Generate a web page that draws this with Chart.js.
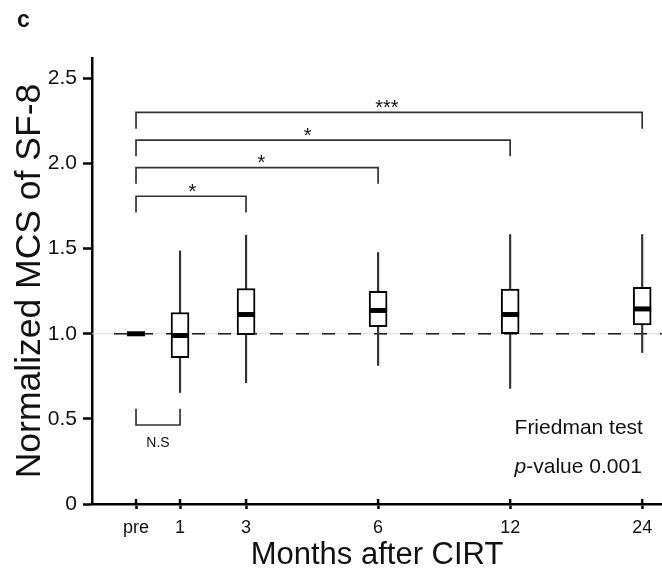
<!DOCTYPE html>
<html>
<head>
<meta charset="utf-8">
<script src="https://cdn.jsdelivr.net/npm/chart.js@4.4.0/dist/chart.umd.min.js"></script>
<style>
  html, body { margin: 0; padding: 0; background: #fff; overflow: hidden; }
  #wrap { position: relative; width: 662px; height: 574px; }
  canvas { display: block; }
</style>
</head>
<body>
<div id="wrap"><canvas id="chart"></canvas></div>
<script>
// months after CIRT, placed on a stretched axis like the original figure
const months = ['pre', '1', '3', '6', '12', '24'];
const monthPos = [0, 1, 2.5, 5.5, 8.5, 11.5];

// box plot values (normalized MCS of SF-8)
const whiskerLow = [1.0, 0.655, 0.712, 0.814, 0.679, 0.89];
const q1 = [1.0, 0.859, 0.995, 1.041, 1.0, 1.052];
const median = [1.0, 0.99, 1.113, 1.137, 1.113, 1.146];
const q3 = [1.0, 1.125, 1.266, 1.25, 1.262, 1.273];
const whiskerHigh = [1.0, 1.487, 1.579, 1.477, 1.583, 1.583];

const yTicks = [0, 0.5, 1.0, 1.5, 2.0, 2.5];

// significance brackets, all starting at 'pre'
const bracketTo = [5, 4, 3, 2];
const bracketLevel = [2.30, 2.138, 1.976, 1.808];
const bracketLabel = ['***', '*', '*', '*'];
const bracketLabelX = [5.7, 3.9, 2.85, 1.28];
const legDrop = 0.095;

const nsTo = 1;
const nsLevel = 0.464;

const refValue = 1.0;

const font = '"Liberation Sans", Arial, Helvetica, sans-serif';
const xMin = -1, xMax = 11.95;

const boxes = monthPos.map((p, i) => ({ x: p, y: [q1[i], q3[i]] }));
const whiskers = monthPos.map((p, i) => ({ x: p, y: [whiskerLow[i], whiskerHigh[i]] }));
const medians = monthPos.map((p, i) => ({ x: p, y: median[i] }));

const bracketSets = bracketTo.map((to, i) => ({
  type: 'line',
  data: [
    { x: monthPos[0], y: bracketLevel[i] - legDrop },
    { x: monthPos[0], y: bracketLevel[i] },
    { x: monthPos[to], y: bracketLevel[i] },
    { x: monthPos[to], y: bracketLevel[i] - legDrop }
  ],
  borderColor: '#333',
  borderWidth: 1.7,
  pointRadius: 0,
  tension: 0,
  order: 5
}));

const nsSet = {
  type: 'line',
  data: [
    { x: monthPos[0], y: nsLevel + legDrop },
    { x: monthPos[0], y: nsLevel },
    { x: monthPos[nsTo], y: nsLevel },
    { x: monthPos[nsTo], y: nsLevel + legDrop }
  ],
  borderColor: '#333',
  borderWidth: 1.7,
  pointRadius: 0,
  tension: 0,
  order: 5
};

const notes = {
  id: 'notes',
  afterDatasetsDraw(chart) {
    const { ctx, scales: { x, y } } = chart;
    ctx.save();

    // x ticks also poke a little into the plot, as in the original
    ctx.strokeStyle = '#000';
    ctx.lineWidth = 2.5;
    monthPos.forEach(p => {
      const px = x.getPixelForValue(p);
      ctx.beginPath();
      ctx.moveTo(px, y.bottom - 5);
      ctx.lineTo(px, y.bottom);
      ctx.stroke();
    });

    ctx.fillStyle = '#111';
    ctx.textAlign = 'center';
    ctx.textBaseline = 'middle';
    ctx.font = '20px ' + font;
    bracketLabel.forEach((t, i) => {
      ctx.fillText(t, x.getPixelForValue(bracketLabelX[i]), y.getPixelForValue(bracketLevel[i]) - 4);
    });
    ctx.font = '14px ' + font;
    ctx.fillText('N.S', x.getPixelForValue((monthPos[0] + monthPos[nsTo]) / 2), y.getPixelForValue(nsLevel) + 18);

    ctx.textAlign = 'left';
    ctx.font = '21px ' + font;
    const tx = x.getPixelForValue(8.6);
    ctx.fillText('Friedman test', tx, y.getPixelForValue(0.446));
    ctx.font = 'italic 21px ' + font;
    ctx.fillText('p', tx, y.getPixelForValue(0.219));
    const pw = ctx.measureText('p').width;
    ctx.font = '21px ' + font;
    ctx.fillText('-value 0.001', tx + pw, y.getPixelForValue(0.219));

    ctx.font = 'bold 23px ' + font;
    ctx.fillText('c', 17, 21);
    ctx.restore();
  }
};

new Chart(document.getElementById('chart'), {
  type: 'bar',
  data: {
    datasets: [
      {
        type: 'line',
        data: [{ x: xMin, y: refValue }, { x: xMax, y: refValue }],
        borderColor: '#d8d8d8',
        borderWidth: 1,
        pointRadius: 0,
        order: 9
      },
      {
        type: 'line',
        data: [{ x: -0.5, y: refValue }, { x: xMax, y: refValue }],
        borderColor: '#222',
        borderWidth: 1.6,
        borderDash: [13, 13],
        pointRadius: 0,
        order: 8
      },
      {
        data: whiskers,
        backgroundColor: '#333',
        borderWidth: 0,
        barThickness: 1.5,
        grouped: false,
        order: 4
      },
      {
        data: boxes,
        backgroundColor: '#fff',
        borderColor: '#000',
        borderWidth: 2,
        borderSkipped: false,
        barThickness: 18,
        grouped: false,
        order: 3
      },
      {
        type: 'scatter',
        data: medians,
        pointStyle: 'line',
        radius: 9,
        hoverRadius: 9,
        borderWidth: 5,
        borderColor: '#000',
        order: 1
      },
      ...bracketSets,
      nsSet
    ]
  },
  options: {
    responsive: true,
    maintainAspectRatio: false,
    animation: false,
    layout: { autoPadding: false, padding: { top: 58, right: 0, left: 0, bottom: 0 } },
    plugins: { legend: { display: false }, tooltip: { enabled: false } },
    scales: {
      x: {
        type: 'linear',
        min: xMin,
        max: xMax,
        offset: false,
        afterFit(scale) {
          scale.height = 70;
          scale.paddingLeft = 0;
          scale.paddingRight = 0;
        },
        afterBuildTicks(scale) { scale.ticks = monthPos.map(v => ({ value: v })); },
        ticks: {
          includeBounds: false,
          color: '#111',
          font: { family: font, size: 18 },
          padding: 8,
          callback(v) { return months[monthPos.indexOf(v)]; }
        },
        grid: { drawOnChartArea: false, offset: false, tickLength: 5, tickWidth: 2.5, tickColor: '#000' },
        border: { color: '#000', width: 2.5 },
        title: {
          display: true,
          text: 'Months after CIRT',
          color: '#111',
          font: { family: font, size: 31 },
          padding: { top: 0, bottom: 0 }
        }
      },
      y: {
        min: 0,
        max: 2.62,
        afterFit(scale) { scale.width = 92; },
        afterBuildTicks(scale) { scale.ticks = yTicks.map(v => ({ value: v })); },
        ticks: {
          includeBounds: false,
          color: '#111',
          font: { family: font, size: 21 },
          padding: 6,
          callback(v) { return v === 0 ? '0' : v.toFixed(1); }
        },
        grid: { drawOnChartArea: false, tickLength: 9, tickWidth: 2.5, tickColor: '#000' },
        border: { color: '#000', width: 2.5 },
        title: {
          display: true,
          text: 'Normalized MCS of SF-8',
          color: '#111',
          font: { family: font, size: 35.5 },
          padding: { top: 9, bottom: 0 }
        }
      }
    }
  },
  plugins: [notes]
});
</script>
</body>
</html>
